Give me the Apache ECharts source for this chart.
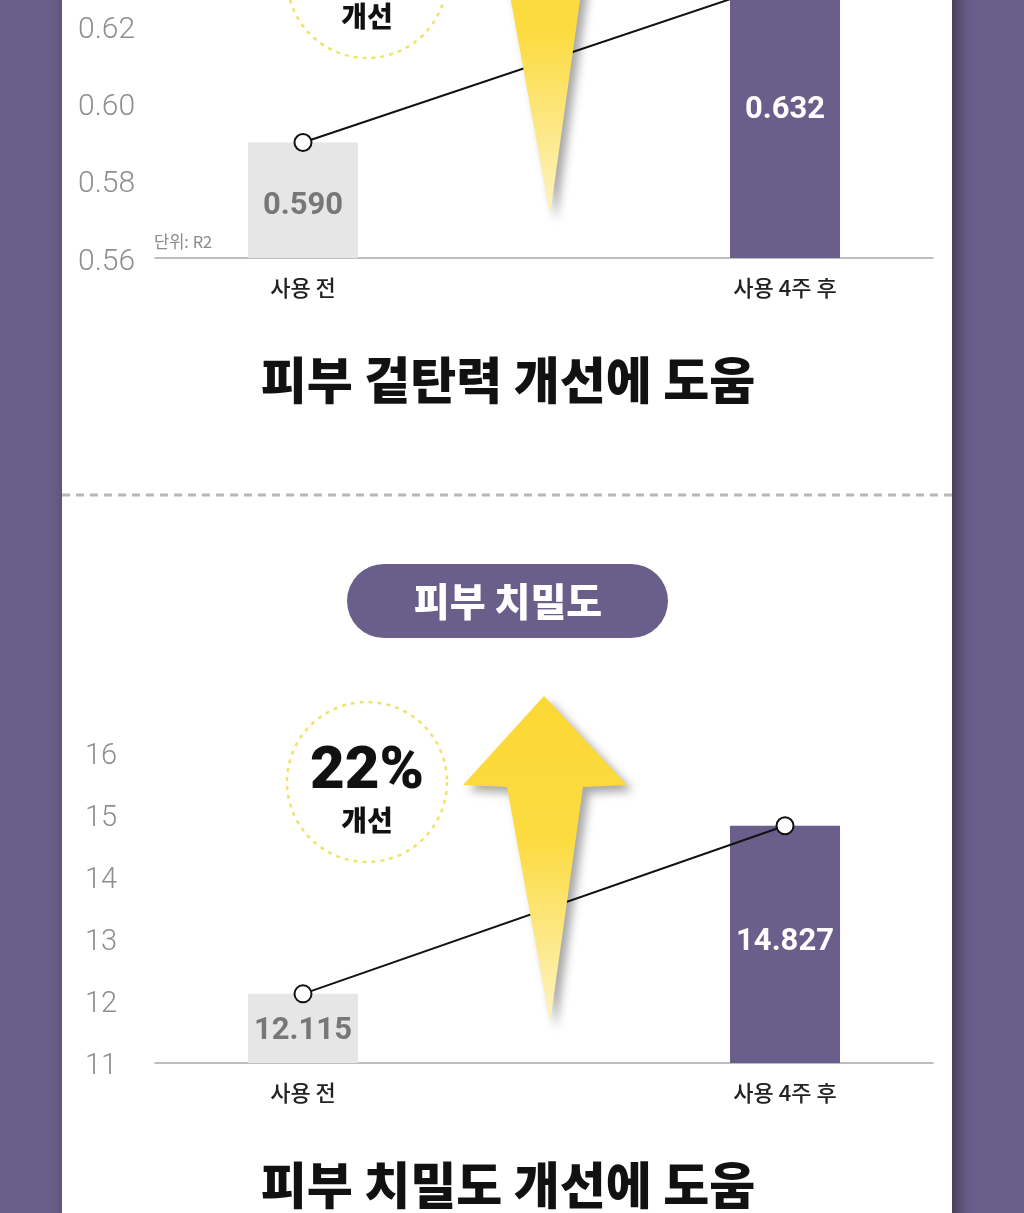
<!DOCTYPE html>
<html>
<head>
<meta charset="utf-8">
<script src="https://cdn.jsdelivr.net/npm/echarts@6/dist/echarts.min.js"></script>
<style>
html,body{margin:0;padding:0;background:#6a5e8a;}
#chart{width:1024px;height:1213px;}
</style>
</head>
<body>
<div id="chart"></div>
<script>
// ---- data ----
const categories = ['사용 전', '사용 4주 후'];
const elasticityValues = [0.590, 0.632];   // 피부 겉탄력 (단위: R2)
const densityValues = [12.115, 14.827];    // 피부 치밀도
const elasticityTicks = { min: 0.56, max: 0.627, interval: 0.02 };
const densityTicks = { min: 11, max: 16, interval: 1 };
const elasticityTitle = '피부 겉탄력 개선에 도움';
const densityTitle = '피부 치밀도 개선에 도움';
const densityBadge = '피부 치밀도';
const densityPercent = '22%';
const improveText = '개선';
const unitText = '단위: R2';

// ---- styles ----
const PURPLE = '#6a5e8a';
const GRAY_BAR = '#e6e6e6';
const barColors = [GRAY_BAR, PURPLE];
const labelColors = ['#777777', '#ffffff'];
const NUM_FONT = 'Roboto, "Noto Sans", sans-serif';
const KR_FONT = '"Noto Sans CJK KR", "Noto Sans", sans-serif';

function barData(values, offsets) {
  return values.map((v, i) => ({
    value: [i, v],
    itemStyle: { color: barColors[i] },
    label: { color: labelColors[i], offset: offsets[i] }
  }));
}
function lineData(values) {
  return values.map((v, i) => [i, v]);
}

function xAxisFor(gridIndex) {
  return {
    type: 'value', gridIndex, min: -0.307, max: 1.307, splitNumber: 2,
    axisLine: { show: true, lineStyle: { color: '#a8a8a8', width: 1.5 } },
    axisTick: { show: false },
    splitLine: { show: false },
    axisLabel: {
      customValues: [0, 1],
      margin: 19, fontSize: 22, color: '#222', fontFamily: KR_FONT, fontWeight: 500,
      formatter: v => {
        const i = Math.round(v);
        return Math.abs(v - i) < 1e-6 && categories[i] ? categories[i] : '';
      }
    }
  };
}
function yAxisFor(gridIndex, t, margin, fontSize, digits) {
  return {
    type: 'value', gridIndex, min: t.min, max: t.max, interval: t.interval,
    axisLine: { show: false }, axisTick: { show: false }, splitLine: { show: false },
    axisLabel: {
      showMaxLabel: Math.abs(t.max / t.interval - Math.round(t.max / t.interval)) < 1e-6,
      align: 'left', margin, fontSize, color: '#8e8e8e', fontFamily: NUM_FONT, fontWeight: 300,
      formatter: v => '{n|' + v.toFixed(digits) + '}',
      rich: { n: { fontSize, color: '#8e8e8e', fontFamily: NUM_FONT, fontWeight: 300, padding: [8, 0, 0, 0] } }
    }
  };
}
function barSeries(idx, values, offsets) {
  return {
    type: 'bar', xAxisIndex: idx, yAxisIndex: idx, barWidth: 110, z: 2,
    data: barData(values, offsets),
    label: {
      show: true, position: 'inside', fontSize: 31, fontWeight: 'bold', fontFamily: NUM_FONT,
      formatter: p => p.value[1].toFixed(3)
    }
  };
}
function lineSeries(idx, values) {
  return {
    type: 'line', xAxisIndex: idx, yAxisIndex: idx, z: 5,
    data: lineData(values),
    symbol: 'circle', symbolSize: 17,
    itemStyle: { color: '#ffffff', borderColor: '#111', borderWidth: 2 },
    lineStyle: { color: '#111', width: 2 },
    label: { show: false }
  };
}

function arrow(dy) {
  const pts = [[544,696],[627,785],[583,787],[550,1023],[507,787],[463,785]];
  return {
    type: 'polygon', z: 20,
    shape: { points: pts.map(p => [p[0], p[1] + dy]) },
    style: {
      fill: { type: 'linear', x: 0, y: 0, x2: 0, y2: 1, colorStops: [
        { offset: 0, color: '#fcd834' }, { offset: 0.45, color: '#fcdb42' }, { offset: 1, color: '#fdf4c4' }
      ]},
      shadowBlur: 10, shadowOffsetX: 6, shadowOffsetY: 6, shadowColor: 'rgba(0,0,0,0.35)'
    }
  };
}
function dashedCircle(cy) {
  return {
    type: 'circle', z: 15, shape: { cx: 367, cy, r: 80 },
    style: { fill: 'rgba(0,0,0,0)', stroke: '#eee46a', lineWidth: 2.5, lineDash: [4, 5] }
  };
}
function text(x, y, str, fontSize, color, opts) {
  return Object.assign({
    type: 'text', z: 30, x, y,
    style: Object.assign({
      x: 0, y: 0, text: str, fontSize, fill: color, fontFamily: KR_FONT, fontWeight: 'bold',
      align: 'center', verticalAlign: 'middle'
    }, (opts && opts.style) || {})
  }, (opts && opts.el) || {});
}

const chart = echarts.init(document.getElementById('chart'), null, { renderer: 'canvas' });
chart.setOption({
  backgroundColor: PURPLE,
  animation: false,
  grid: [
    { left: 155, right: 91, top: 0, height: 258 },
    { left: 155, right: 91, top: 753, height: 310 }
  ],
  xAxis: [xAxisFor(0), xAxisFor(1)],
  yAxis: [yAxisFor(0, elasticityTicks, 77, 30, 2), yAxisFor(1, densityTicks, 70, 29, 0)],
  series: [
    barSeries(0, elasticityValues, [[0, 6], [0, -19]]),
    lineSeries(0, elasticityValues),
    barSeries(1, densityValues, [[0, 3], [0, -2]]),
    lineSeries(1, densityValues)
  ],
  graphic: { elements: [
    { type: 'rect', z: -10, shape: { x: 62, y: -30, width: 890, height: 1280 },
      style: { fill: '#ffffff', shadowBlur: 14, shadowOffsetX: 5, shadowColor: 'rgba(0,0,0,0.45)' } },
    { type: 'line', z: 1, shape: { x1: 62, y1: 495, x2: 952, y2: 495 },
      style: { stroke: '#b8b8b8', lineWidth: 3, lineDash: [8, 6] } },
    // top section decorations
    dashedCircle(-22),
    text(367, 16, improveText, 28, '#111', { style: { fontWeight: 900 } }),
    arrow(-808),
    text(154, 242, unitText, 16.5, '#8a8a8a', { style: { align: 'left', fontWeight: 'normal' } }),
    text(508, 380, elasticityTitle, 50, '#111', { style: { fontWeight: 900 } }),
    // bottom section
    { type: 'rect', z: 12, shape: { x: 347, y: 564, width: 321, height: 74, r: 37 }, style: { fill: PURPLE } },
    text(508, 601, densityBadge, 39, '#ffffff', { style: { fontWeight: 900 } }),
    dashedCircle(782),
    text(367, 773, densityPercent, 60, '#111', { style: { fontFamily: NUM_FONT, fontWeight: 900 } }),
    text(367, 820, improveText, 28, '#111', { style: { fontWeight: 900 } }),
    arrow(0),
    text(508, 1185, densityTitle, 50, '#111', { style: { fontWeight: 900 } })
  ]}
});
</script>
</body>
</html>
